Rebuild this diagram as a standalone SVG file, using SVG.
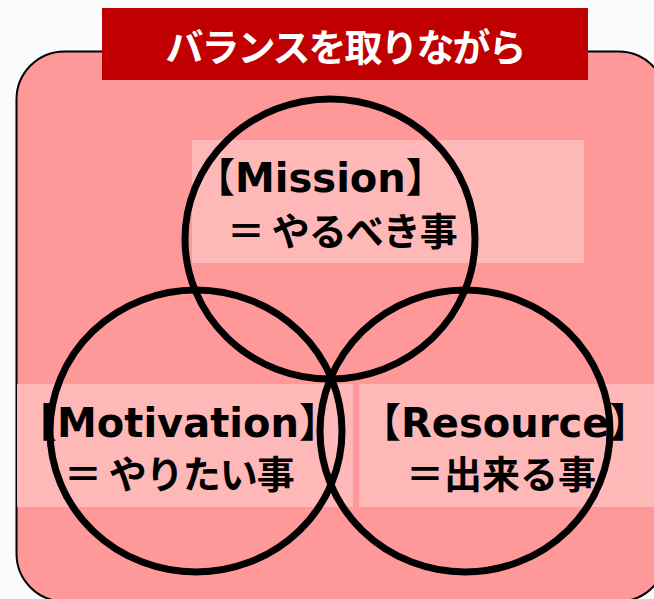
<svg xmlns="http://www.w3.org/2000/svg" width="654" height="599" viewBox="0 0 654 599">
<style>
.lbl{font-family:"DejaVu Sans","Noto Sans CJK JP",sans-serif;font-weight:bold;font-size:40px;fill:#000}
.jp{font-family:"Noto Sans CJK JP",sans-serif;font-weight:bold;font-size:38px;fill:#000}
.box{fill:#FFB8B8}
.ring{fill:none;stroke:#000;stroke-width:7}
</style>
<rect x="0" y="0" width="654" height="599" fill="#FAFBFD"/>
<g id="frame">
<rect x="16.5" y="51.5" width="650" height="550" rx="48" ry="48" fill="#FF9999" stroke="#000" stroke-width="2"/>
</g>
<g id="title">
<rect x="102" y="8" width="486" height="72" fill="#C00000"/>
<text x="345" y="61" text-anchor="middle" font-family="'Noto Sans CJK JP',sans-serif" font-weight="bold" font-size="38" letter-spacing="-2" fill="#fff">バランスを取りながら</text>
</g>
<g id="mission">
<rect class="box" x="192" y="140" width="392" height="123"/>
<text class="lbl" x="195" y="192">【Mission】</text>
<text class="jp" x="227" y="245" letter-spacing="-1">＝ やるべき事</text>
</g>
<g id="motivation">
<rect class="box" x="17" y="384" width="336" height="123"/>
<text class="lbl" x="17" y="437">【Motivation】</text>
<text class="jp" x="64" y="488" letter-spacing="-1">＝ やりたい事</text>
</g>
<g id="resource">
<rect class="box" x="359" y="384" width="300" height="123"/>
<text class="lbl" x="361" y="437">【Resource】</text>
<text class="jp" x="406" y="488">＝出来る事</text>
</g>
<g id="circles">
<ellipse class="ring" cx="330" cy="239" rx="145" ry="140"/>
<ellipse class="ring" cx="196" cy="431" rx="146" ry="141"/>
<ellipse class="ring" cx="465" cy="431" rx="145" ry="141"/>
</g>
</svg>
